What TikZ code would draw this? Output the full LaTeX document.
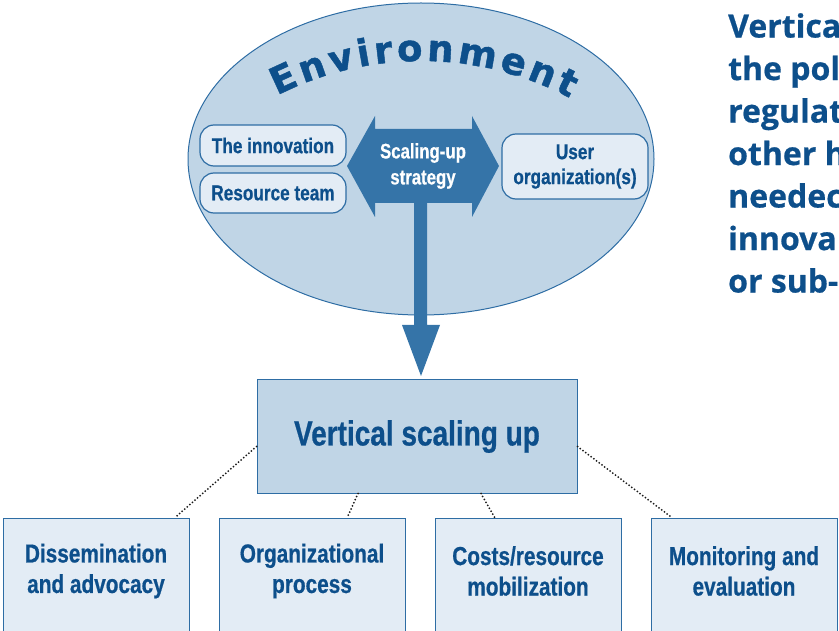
\documentclass[tikz,border=0pt]{standalone}
\usepackage{fontspec}
\setmainfont{Liberation Sans}
\newfontfamily\cond[FakeStretch=0.8,FakeBold=0.6]{Liberation Sans}
\newfontfamily\envfont[FakeBold=1.2]{DejaVu Sans}
\newfontfamily\sidefont[FakeBold=0.6]{Open Sans}
\usetikzlibrary{decorations.text,calc,shapes.geometric}
\definecolor{ink}{HTML}{0D4F8B}
\definecolor{edge}{HTML}{2E6DA4}
\definecolor{envfill}{HTML}{C0D5E6}
\definecolor{arrowfill}{HTML}{3574A8}
\definecolor{pale}{HTML}{E3ECF5}
\definecolor{dots}{HTML}{1A1A1A}
\begin{document}
\begin{tikzpicture}[x=1pt,y=1pt,
  roundbox/.style={draw=edge, line width=1.2pt, fill=pale, rounded corners=14pt,
    inner sep=0pt, font=\cond\bfseries\fontsize{21.5}{25}\selectfont, text=ink, align=center},
  mainbox/.style={draw=edge, line width=1pt, fill=envfill, inner sep=0pt,
    minimum width=320, minimum height=113, font=\cond\bfseries\fontsize{35}{36}\selectfont, text=ink},
  subbox/.style={draw=edge, line width=1pt, fill=pale, inner sep=0pt,
    minimum width=186, minimum height=130, anchor=north},
  subtext/.style={font=\cond\bfseries\fontsize{26}{30.5}\selectfont, text=ink, align=center, inner sep=0pt},
  dotline/.style={draw=dots, line width=2pt, line cap=round, dash pattern=on 0pt off 3.4pt}
]
\useasboundingbox (0,-631) rectangle (839,0);
\clip (0,-631) rectangle (839,0);

% environment ellipse
\node (env) [ellipse, draw=edge, line width=1pt, fill=envfill, minimum width=466, minimum height=312] at (421,-159) {};

% curved title
\path[decorate, decoration={text along path, text align={fit to path},
  text={|\envfont\bfseries\fontsize{37}{37}\selectfont\color{ink}|Environment}}]
  (421,-378) ++(117:317) arc[start angle=117, end angle=62, radius=317];

% boxes inside
\node (innov) [roundbox, minimum width=146, minimum height=41] at (273,-145.5) {The innovation};
\node (team) [roundbox, minimum width=146, minimum height=40] at (273,-193) {Resource team};
\node (user) [roundbox, minimum width=146, minimum height=65] at (575,-166.5) {User\\organization(s)};

% strategy arrow
\fill[arrowfill] (347,-166) -- (375,-116) -- (375,-129) -- (472,-129) -- (472,-116)
  -- (499,-166) -- (472,-217) -- (472,-203) -- (427,-203) -- (427,-325) -- (440,-325)
  -- (421,-376) -- (402,-325) -- (414,-325) -- (414,-203) -- (375,-203) -- (375,-217) -- cycle;
\node (strat) [font=\cond\bfseries\fontsize{21}{26}\selectfont, text=white, align=center, inner sep=0pt] at (423,-166) {Scaling-up\\strategy};

% vertical scaling up
\node (vsu) [mainbox] at (417,-436.5) {Vertical scaling up};

% sub boxes
\node (b1) [subbox] at (96,-518) {};
\node (b2) [subbox] at (312,-518) {};
\node (b3) [subbox] at (528,-518) {};
\node (b4) [subbox] at (744,-518) {};
\node (t1) [subtext] at (96,-571) {Dissemination\\and advocacy};
\node (t2) [subtext] at (312,-571) {Organizational\\process};
\node (t3) [subtext] at (528,-571) {Costs/resource\\mobilization};
\node (t4) [subtext] at (744,-571) {Monitoring and\\evaluation};

% dotted connectors
\draw[dotline] ($(vsu.west)+(0,-10)$) -- ($(b1.north east)+(-15,0)$);
\draw[dotline] ($(vsu.south)+(-59,0)$) -- ($(b2.north)+(35,0)$);
\draw[dotline] ($(vsu.south)+(64,0)$) -- ($(b3.north)+(-33,0)$);
\draw[dotline] ($(vsu.east)+(0,-10)$) -- ($(b4.north west)+(22,0)$);

% side text (cut off at the right edge)
\node (side) [anchor=north west, inner sep=0pt, align=left, text=ink,
  font=\sidefont\bfseries\fontsize{32}{42.5}\selectfont] at (728,-13)
  {Vertica\\the pol\\regulat\\other h\\needec\\innova\\or sub-};
\end{tikzpicture}
\end{document}
